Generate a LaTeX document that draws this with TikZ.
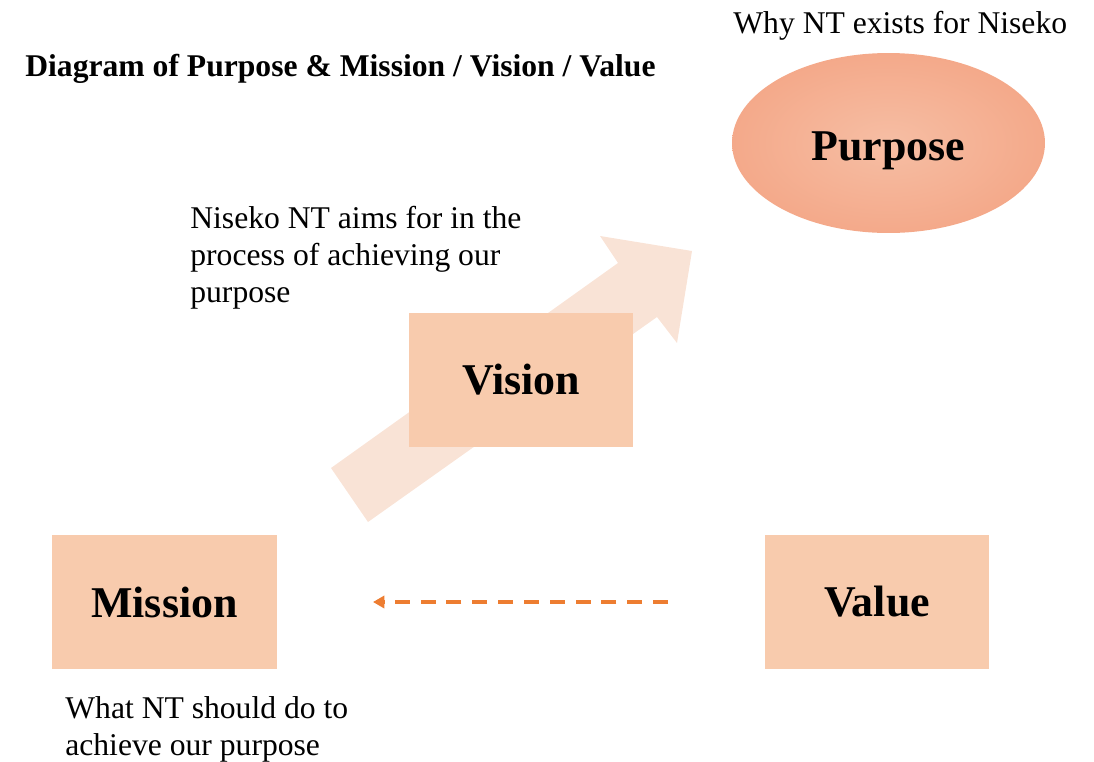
\documentclass[tikz,border=0pt]{standalone}
\usepackage{fontspec}
\setmainfont{Liberation Serif}
\usetikzlibrary{arrows.meta,positioning,shapes.geometric}
\definecolor{peach}{HTML}{F8CBAD}
\definecolor{palepeach}{HTML}{F9E3D6}
\definecolor{salmonin}{HTML}{F6BEA4}
\definecolor{salmonout}{HTML}{F4A98A}
\definecolor{orange}{HTML}{ED7D31}

\begin{document}
\begin{tikzpicture}[
  x=0.02cm, y=-0.02cm,
  box/.style={
    rectangle,
    fill=peach,
    minimum width=4.5cm,
    minimum height=2.68cm,
    font=\fontsize{25}{30}\selectfont\bfseries
  },
  goal/.style={
    ellipse,
    shading=radial,
    inner color=salmonin,
    outer color=salmonout,
    minimum width=6.26cm,
    minimum height=3.6cm,
    text depth=0pt,
    font=\fontsize{25}{30}\selectfont\bfseries
  },
  note/.style={
    anchor=base west,
    inner sep=0pt,
    align=left,
    font=\fontsize{18}{21}\selectfont
  }
]
\useasboundingbox (0,0) rectangle (1094,761);

% Title
\node[note, font=\fontsize{18}{21}\selectfont\bfseries] (title) at (25,76)
  {Diagram of Purpose \& Mission / Vision / Value};

% Rising arrow behind the vision box
\fill[palepeach] (368,522) -- (331,468) -- (618,263) -- (600,236)
  -- (692,251) -- (677,343) -- (657,317) -- cycle;

% Purpose
\node[goal] (purpose) at (888.5,143) {\raisebox{-3pt}{Purpose}};
\node[note] (whynote) at (733,33) {Why NT exists for Niseko};

% Vision (base anchor sits on the last line)
\node[box] (vision) at (521,380) {Vision};
\node[note] (visionnote) at (190,302)
  {Niseko NT aims for in the\\process of achieving our\\purpose};

% Mission and Value
\node[box] (mission) at (164.5,602) {Mission};
\node[box] (value) at (877,602) {Value};
\node[note] (missionnote) at (65,755)
  {What NT should do to\\achieve our purpose};

% Value feeds mission
\coordinate (dashstart) at (668,602);
\coordinate (dashend) at (373,602);
\draw[orange, line width=2.3pt, dash pattern=on 8.5pt off 6.2pt,
  -{Triangle[length=6.5pt, width=7pt]}] (dashstart) -- (dashend);

\end{tikzpicture}
\end{document}
